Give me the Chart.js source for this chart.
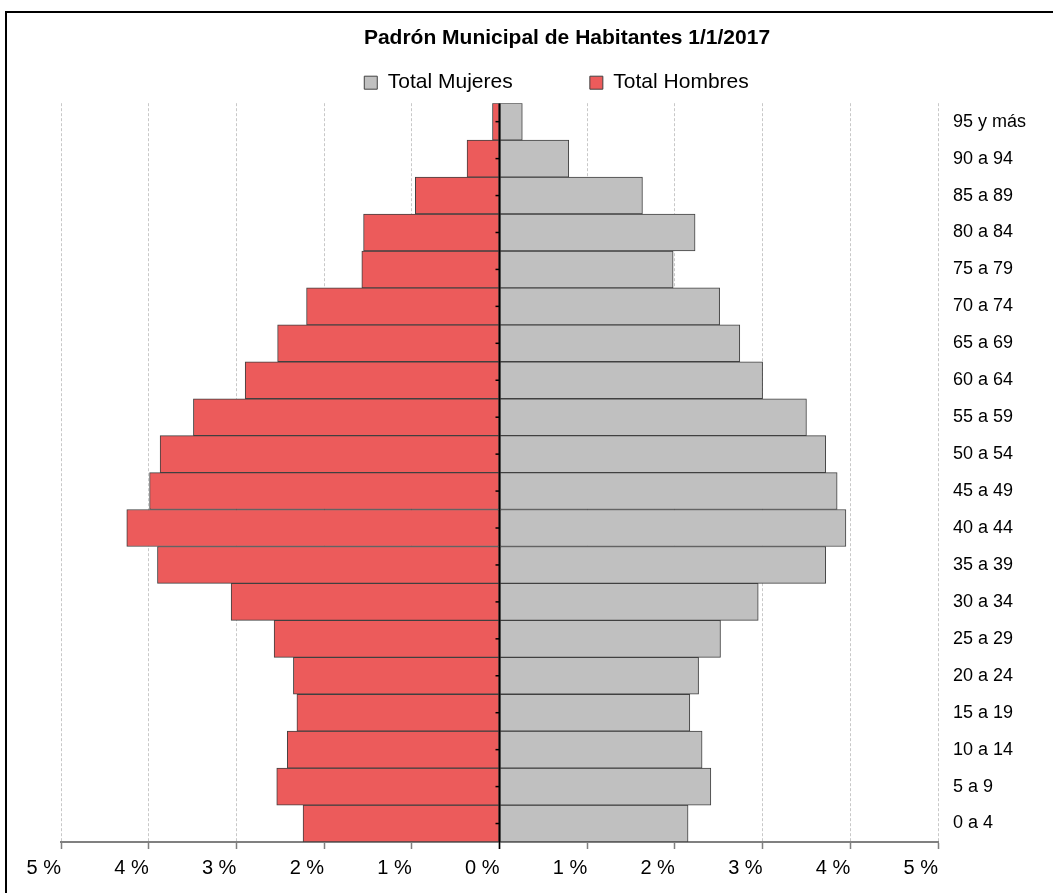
<!DOCTYPE html>
<html>
<head>
<meta charset="utf-8">
<script src="https://cdn.jsdelivr.net/npm/chart.js@4/dist/chart.umd.min.js"></script>
<style>
  html, body { margin: 0; padding: 0; background: #fff; overflow: hidden; }
  #marco {
    position: absolute; left: 5px; top: 11px;
    width: 1110px; height: 900px;
    border-left: 2px solid #000; border-top: 2px solid #000;
  }
  canvas { display: block; }
</style>
</head>
<body>
<div id="marco"><canvas id="piramide" width="1110" height="900"></canvas></div>
<script>
// Grupos de edad (de abajo hacia arriba)
const edades = ["0 a 4", "5 a 9", "10 a 14", "15 a 19", "20 a 24", "25 a 29", "30 a 34",
  "35 a 39", "40 a 44", "45 a 49", "50 a 54", "55 a 59", "60 a 64", "65 a 69",
  "70 a 74", "75 a 79", "80 a 84", "85 a 89", "90 a 94", "95 y más"];

// Porcentaje sobre el total
const mujeres = [2.15, 2.41, 2.31, 2.17, 2.27, 2.52, 2.95, 3.72, 3.95, 3.85,
  3.72, 3.50, 3.00, 2.74, 2.51, 1.98, 2.23, 1.63, 0.79, 0.26];
const hombres = [2.24, 2.54, 2.42, 2.31, 2.35, 2.57, 3.06, 3.90, 4.25, 3.99,
  3.87, 3.49, 2.90, 2.53, 2.20, 1.57, 1.55, 0.96, 0.37, 0.08];

const ejeX = [-5, 5];
const fuente = "'Liberation Sans', Arial, sans-serif";

// Linea central negra con marcas en cada grupo
const lineaCentro = {
  id: "lineaCentro",
  afterDatasetsDraw(chart) {
    const { ctx, chartArea, scales } = chart;
    const x0 = scales.x.getPixelForValue(0);
    ctx.save();
    ctx.strokeStyle = "#000";
    ctx.lineWidth = 1.5;
    ctx.beginPath();
    ctx.moveTo(x0, chartArea.top);
    ctx.lineTo(x0, chartArea.bottom + 7);
    ctx.stroke();
    scales.y.ticks.forEach((t, i) => {
      const y = scales.y.getPixelForTick(i);
      ctx.beginPath();
      ctx.moveTo(x0 - 4, y);
      ctx.lineTo(x0, y);
      ctx.stroke();
    });
    ctx.restore();
  }
};

new Chart(document.getElementById("piramide").getContext("2d"), {
  type: "bar",
  data: {
    labels: edades,
    datasets: [
      {
        label: "Total Mujeres\u2003\u2003\u2003\u2009",
        data: mujeres,
        backgroundColor: "#c0c0c0",
        borderColor: "#404040",
        borderWidth: 1,
        borderSkipped: false,
        barPercentage: 1,
        categoryPercentage: 1
      },
      {
        label: "Total Hombres\u2003",
        data: hombres.map(v => -v),
        backgroundColor: "#ec5b5b",
        borderColor: "#404040",
        borderWidth: 1,
        borderSkipped: false,
        barPercentage: 1,
        categoryPercentage: 1
      }
    ]
  },
  options: {
    indexAxis: "y",
    responsive: false,
    animation: false,
    layout: { padding: { left: 54, right: 44, top: 0, bottom: 26 } },
    plugins: {
      title: {
        display: true,
        text: "Padrón Municipal de Habitantes 1/1/2017",
        color: "#000",
        font: { family: fuente, size: 21, weight: "bold" },
        padding: { top: 13, bottom: 11 }
      },
      legend: {
        display: true,
        position: "top",
        labels: {
          color: "#000",
          font: { family: fuente, size: 21 },
          boxWidth: 13,
          boxHeight: 13,
          padding: 10
        }
      },
      tooltip: { enabled: false }
    },
    scales: {
      x: {
        stacked: true,
        min: ejeX[0],
        max: ejeX[1],
        ticks: {
          stepSize: 1,
          align: "end",
          color: "#000",
          padding: 7,
          font: { family: fuente, size: 20 },
          callback: v => Math.abs(v) + " %"
        },
        grid: {
          color: c => (c.tick && c.tick.value === 0) ? "rgba(0,0,0,0)" : "#c8c8c8",
          lineWidth: 1,
          tickColor: "#7f7f7f",
          tickLength: 7,
          tickWidth: 1.5
        },
        border: { display: true, color: "#808080", width: 2, dash: [3, 2] }
      },
      y: {
        stacked: true,
        position: "right",
        reverse: true,
        afterFit: s => { s.width = 135; },
        ticks: {
          color: "#000",
          padding: 7,
          font: { family: fuente, size: 18 }
        },
        grid: { display: false },
        border: { display: false }
      }
    }
  },
  plugins: [lineaCentro]
});
</script>
</body>
</html>
